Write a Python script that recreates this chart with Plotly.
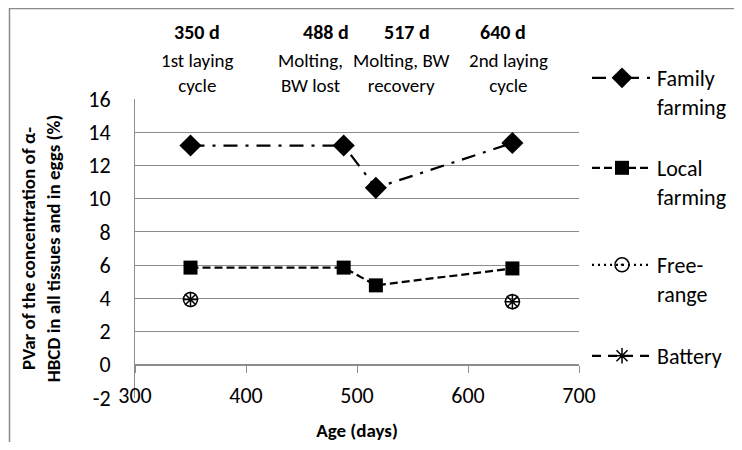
import plotly.graph_objects as go

# ---- data ----
age_days = [350, 488, 517, 640]
family_farming = [13.2, 13.2, 10.65, 13.35]
local_farming = [5.85, 5.85, 4.78, 5.8]
free_range = [3.93, None, None, 3.8]
battery = [3.93, None, None, 3.8]

series_names = ["Family<br>farming", "Local<br>farming", "Free-<br>range", "Battery"]
stage_days = ["350 d", "488 d", "517 d", "640 d"]
stage_labels = ["1st laying<br>cycle", "Molting,<br>BW lost", "Molting, BW<br>recovery", "2nd laying<br>cycle"]
x_ticks = [300, 400, 500, 600, 700]
y_ticks = [-2, 0, 2, 4, 6, 8, 10, 12, 14, 16]
y_tick_text = ["-2", "0", "2", "4", "6", "8", "10", "12", "14", "16"]

FONT = "Carlito, Lato, Calibri, sans-serif"
OFF = 8  # page body margin of the html file
W, H = 742 - 2 * OFF, 450 - 2 * OFF
# plot area in screen px (reference), converted to figure px
L, R, T, B = 135 - OFF, 579 - OFF, 99 - OFF, 398 - OFF


def px_x(px):
    return (px - OFF - L) / (R - L)


def px_y(py):
    return (B - (py - OFF)) / (B - T)


legend_ids = ["legend2", "legend3", "legend4", "legend5"]

fig = go.Figure()

fig.add_trace(go.Scatter(
    x=age_days, y=family_farming, name=series_names[0], mode="lines+markers",
    line=dict(color="black", width=2.25, dash="14px,8px,3px,8px"),
    marker=dict(symbol="diamond", size=17, color="black"),
    legend=legend_ids[0]))
fig.add_trace(go.Scatter(
    x=age_days, y=local_farming, name=series_names[1], mode="lines+markers",
    line=dict(color="black", width=2.25, dash="8px,4px"),
    marker=dict(symbol="square", size=14, color="black"),
    legend=legend_ids[1]))
fig.add_trace(go.Scatter(
    x=age_days, y=free_range, name=series_names[2], mode="lines+markers",
    connectgaps=False,
    line=dict(color="black", width=2.25, dash="2px,4px"),
    marker=dict(symbol="circle-open-dot", size=14, color="black", line=dict(width=1.5, color="black")),
    legend=legend_ids[2]))
fig.add_trace(go.Scatter(
    x=age_days, y=battery, name=series_names[3], mode="lines+markers",
    connectgaps=False,
    line=dict(color="black", width=2.25, dash="9px,7px"),
    marker=dict(symbol="asterisk-open", size=13, color="black", line=dict(width=1.5, color="black")),
    legend=legend_ids[3]))

grid = "#8c8c8c"
fig.update_layout(
    width=W, height=H,
    margin=dict(l=L, r=W - R, t=T, b=H - B, autoexpand=False),
    paper_bgcolor="white", plot_bgcolor="white",
    font=dict(family=FONT, color="black", size=20),
    xaxis=dict(
        range=[300, 700], tickvals=x_ticks, anchor="free", position=px_y(365),
        showline=True, linecolor=grid, linewidth=1,
        ticks="outside", ticklen=7, tickcolor=grid, tickwidth=1,
        showgrid=False, zeroline=False, ticklabelstandoff=4,
        tickfont=dict(size=22),
        title=dict(text="<b>Age (days)</b>", font=dict(size=19), standoff=17),
    ),
    yaxis=dict(
        range=[-2, 16], tickvals=y_ticks, ticktext=y_tick_text,
        showgrid=True, gridcolor=grid, gridwidth=1,
        zeroline=False, showline=True, linecolor=grid, linewidth=1,
        ticks="outside", ticklen=19, tickcolor="rgba(0,0,0,0)", tickwidth=1,
        tickfont=dict(size=22),
        title=dict(text="<b>PVar of the concentration of α-<br>HBCD in all tissues and in eggs (%)</b>",
                   font=dict(size=19), standoff=22),
    ),
    yaxis2=dict(
        range=[-2, 16], tickvals=y_ticks, overlaying="y", side="left", anchor="x",
        ticks="outside", ticklen=8, tickcolor=grid, tickwidth=1,
        showticklabels=False, showgrid=False, zeroline=False, showline=False,
    ),
)

leg_common = dict(xanchor="left", yanchor="top", valign="top", bgcolor="rgba(0,0,0,0)",
                  font=dict(size=22, family=FONT), itemwidth=60, tracegroupgap=0)
leg_y = [73, 163, 260, 351]
for i, key in enumerate(legend_ids):
    fig.update_layout({key: dict(x=px_x(587), y=px_y(leg_y[i] - 16), **leg_common)})

# stage annotations at top
head_x = [197, 326, 407, 503]
sub_x = [197, 310, 401, 508]
for i in range(4):
    fig.add_annotation(text=f"<b>{stage_days[i]}</b>", xref="paper", yref="paper",
                       x=px_x(head_x[i]), y=px_y(32), showarrow=False,
                       font=dict(size=20), xanchor="center", yanchor="middle")
    fig.add_annotation(text=stage_labels[i], xref="paper", yref="paper",
                       x=px_x(sub_x[i]), y=px_y(73), showarrow=False,
                       font=dict(size=19), xanchor="center", yanchor="middle")

# chart border
fig.add_shape(type="rect", xref="paper", yref="paper",
              x0=px_x(9.5), x1=px_x(800), y0=px_y(8.5), y1=px_y(500),
              line=dict(color="#8a8a8a", width=1.5))

fig.write_html("out.html")
